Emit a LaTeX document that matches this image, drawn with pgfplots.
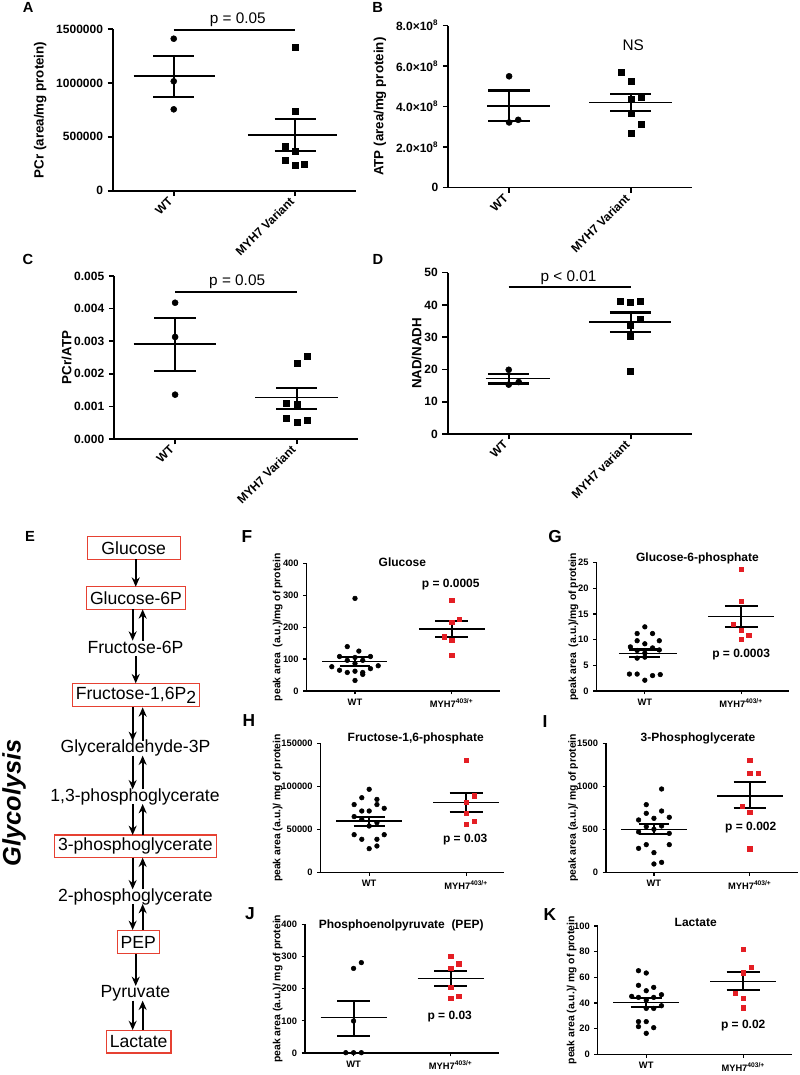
\documentclass[border=0pt]{standalone}
\usepackage{fontspec}
\setmainfont{Liberation Sans}
\usepackage{pgfplots}
\pgfplotsset{compat=1.18}
\usetikzlibrary{arrows.meta}

\definecolor{boxred}{RGB}{230,65,50}
\definecolor{ptred}{RGB}{228,30,36}

\newcommand{\fs}[1]{\fontsize{#1}{#1}\selectfont}
% mean line: xl, xr, y, width
\newcommand{\mline}[4]{\addplot[black,line width=#4,forget plot] coordinates {(#1,#3) (#2,#3)};}
% SEM bar: xc, capl, capr, lo, hi, width
\newcommand{\semb}[6]{%
 \addplot[black,line width=#6,forget plot] coordinates {(#1,#4) (#1,#5)};
 \addplot[black,line width=#6,forget plot] coordinates {(#2,#4) (#3,#4)};
 \addplot[black,line width=#6,forget plot] coordinates {(#2,#5) (#3,#5)};}

\pgfplotsset{
 gpA/.style={scale only axis, anchor=south west, axis lines=left,
  axis line style={-,line width=1.2pt}, tick align=outside, major tick length=4pt,
  tick style={line width=1.2pt,black}, xmin=-0.5, xmax=1.5, ymin=0, xtick={0,1},
  enlargelimits=false, clip=false, scaled y ticks=false, scaled x ticks=false,
  yticklabel style={font=\bfseries\fs{9}},
  xticklabel style={font=\bfseries\fs{9}, rotate=45, anchor=east},
  ylabel style={at={(axis description cs:#1,0.5)},anchor=center,font=\bfseries\fs{10}}},
 gpS/.style={scale only axis, anchor=south west, axis lines=left,
  axis line style={-,line width=0.9pt}, tick align=outside, major tick length=2.5pt,
  tick style={line width=0.9pt,black}, xmin=-0.5, xmax=1.5, ymin=0, xtick={0,1},
  xticklabels={WT,MYH7\textsuperscript{403/+}},
  enlargelimits=false, clip=false, scaled y ticks=false, scaled x ticks=false,
  tick label style={font=\bfseries\fs{7}},
  ylabel style={at={(axis description cs:#1,0.5)},anchor=center,font=\bfseries\fs{7.8}}},
 wtA/.style={only marks, mark=*, mark size=2.25pt, black},
 mtA/.style={only marks, mark=square*, mark size=2.25pt, black},
 wtS/.style={only marks, mark=*, mark size=1.75pt, black},
 mtS/.style={only marks, mark=square*, mark size=1.6pt, ptred},
}
\tikzset{
 met/.style={font=\fs{13.2}, inner sep=0pt, anchor=center},
 mbox/.style={draw=boxred, line width=0.8pt, inner xsep=2.6pt, inner ysep=0pt, minimum height=17pt, font=\fs{13.2}},
 parr/.style={draw=black, line width=1.5pt, -{Stealth[length=7pt,width=6pt]}},
 plet/.style={font=\bfseries\fs{11}, inner sep=0pt},
 plet2/.style={font=\bfseries\fs{13}, inner sep=0pt},
}

\begin{document}
\begin{tikzpicture}
\useasboundingbox (0,0) rectangle (600pt,806.25pt);

% ---------------- Panel A
\begin{axis}[gpA=-0.30, at={(84.75pt,663.2pt)}, width=182.25pt, height=121.3pt,
  ymax=1500000, ytick={0,500000,1000000,1500000}, yticklabels={0,500000,1000000,1500000},
  xticklabels={WT,MYH7 Variant}, ylabel={PCr (area/mg protein)}]
\addplot[wtA] coordinates {(0,1410000) (0,1015000) (0,755000)};
\addplot[mtA] coordinates {(1,1333000) (1,733000) (0.918,408000) (1,368000) (0.918,285000) (1,235000) (1.077,248000)};
\mline{-0.33}{0.34}{1064000}{1pt}
\semb{0}{-0.17}{0.17}{872000}{1252000}{1.75pt}
\mline{0.61}{1.34}{517000}{1pt}
\semb{1}{0.83}{1.17}{368000}{668000}{1.75pt}
\addplot[black,line width=1.75pt] coordinates {(0,1491000) (1,1491000)};
\node[font=\fs{11.5}] at (axis cs:0.527,1583000) {p = 0.05};
\end{axis}

% ---------------- Panel B
\begin{axis}[gpA=-0.281, at={(336.2pt,665.5pt)}, width=182.5pt, height=121.5pt,
  ymax=800000000, ytick={0,200000000,400000000,600000000,800000000},
  yticklabels={0,2.0×10\textsuperscript{8},4.0×10\textsuperscript{8},6.0×10\textsuperscript{8},8.0×10\textsuperscript{8}},
  xticklabels={WT,MYH7 Variant}, ylabel={ATP (area/mg protein)}]
\addplot[wtA] coordinates {(0,550000000) (0,322000000) (0.075,335000000)};
\addplot[mtA] coordinates {(0.923,571000000) (1,525000000) (1,436000000) (1.083,448000000) (1,367000000) (1.083,313000000) (1,270000000)};
\mline{-0.18}{0.34}{403000000}{1pt}
\semb{0}{-0.17}{0.17}{328000000}{479000000}{1.75pt}
\mline{0.66}{1.34}{420000000}{1pt}
\semb{1}{0.83}{1.17}{377000000}{461000000}{1.75pt}
\node[font=\fs{11.5}] at (axis cs:1.02,705000000) {NS};
\end{axis}

% ---------------- Panel C
\begin{axis}[gpA=-0.196, at={(85.7pt,477pt)}, width=182.5pt, height=122.25pt,
  ymax=0.005, ytick={0,0.001,0.002,0.003,0.004,0.005},
  yticklabels={0.000,0.001,0.002,0.003,0.004,0.005},
  xticklabels={WT,MYH7 Variant}, ylabel={PCr/ATP}]
\addplot[wtA] coordinates {(0,0.00418) (0,0.00313) (0,0.00136)};
\addplot[mtA] coordinates {(1,0.00232) (1.083,0.00253) (0.917,0.00111) (1,0.00105) (0.917,0.00064) (1,0.00051) (1.083,0.00056)};
\mline{-0.34}{0.34}{0.00291}{1pt}
\semb{0}{-0.17}{0.17}{0.00208}{0.00371}{1.75pt}
\mline{0.66}{1.34}{0.00127}{1pt}
\semb{1}{0.83}{1.17}{0.00093}{0.00157}{1.75pt}
\addplot[black,line width=1.75pt] coordinates {(0,0.0045) (1,0.0045)};
\node[font=\fs{11.5}] at (axis cs:0.51,0.004825) {p = 0.05};
\end{axis}

% ---------------- Panel D
\begin{axis}[gpA=-0.127, at={(335.8pt,480.75pt)}, width=183pt, height=121pt,
  ymax=50, ytick={0,10,20,30,40,50}, yticklabels={0,10,20,30,40,50},
  xticklabels={WT,MYH7 variant}, ylabel={NAD/NADH}]
\addplot[wtA] coordinates {(0,19.9) (0,15.3) (0.082,16.1)};
\addplot[mtA] coordinates {(0.918,41.0) (1,40.7) (1.08,41.2) (1.08,35.6) (1,33.7) (1,30.2) (1,19.4)};
\mline{-0.19}{0.34}{17.1}{1pt}
\semb{0}{-0.17}{0.17}{15.6}{18.5}{1.75pt}
\mline{0.66}{1.33}{34.7}{1pt}
\semb{1}{0.83}{1.17}{31.7}{37.7}{1.75pt}
\addplot[black,line width=1.75pt] coordinates {(0,45.66) (1,45.66)};
\node[font=\fs{11.5}] at (axis cs:0.49,48.3) {p < 0.01};
\end{axis}

% ---------------- Panel F
\begin{axis}[gpS=-0.15, at={(230pt,288pt)}, width=145pt, height=95.8pt,
  ymax=400, ytick={0,100,200,300,400}, yticklabels={0,100,200,300,400},
  ylabel={peak area\ \ (a.u.)/mg of protein}]
\addplot[wtS] coordinates {(0,290) (-0.08,139) (0.04,125) (-0.16,108) (0,105) (0.16,108) (-0.08,96) (0.08,96) (-0.24,76) (0,86) (0.24,79) (-0.16,65) (-0.08,58) (0,62) (0.08,58) (0.16,70) (0.08,52) (0,33)};
\addplot[mtS] coordinates {(1,285) (1.08,224) (1,215) (0.92,170) (1,160) (1,113)};
\mline{-0.34}{0.33}{92}{1.2pt}
\semb{0}{-0.16}{0.16}{79}{107}{1.6pt}
\mline{0.66}{1.34}{195}{1.2pt}
\semb{1}{0.83}{1.17}{170}{219}{1.6pt}
\node[font=\bfseries\fs{9}] at (axis cs:0.49,402) {Glucose};
\node[font=\bfseries\fs{9}] at (axis cs:0.99,334) {p = 0.0005};
\end{axis}

% ---------------- Panel G
\begin{axis}[gpS=-0.121, at={(447.5pt,288pt)}, width=144.5pt, height=96.2pt,
  ymax=25, ytick={0,5,10,15,20,25}, yticklabels={0,5,10,15,20,25},
  ylabel={peak area\ \ (a.u.)/mg of protein}]
\addplot[wtS] coordinates {(0,12.5) (-0.08,11.2) (0.08,11.2) (-0.08,9.8) (0.15,9.8) (0,9.2) (-0.15,8.6) (0.08,8.4) (0.15,8.0) (-0.08,7.9) (0,7.4) (0,6.6) (-0.16,3.3) (-0.08,3.3) (0.08,3.0) (0.16,3.2) (0,2.1) (-0.08,6.4)};
\addplot[mtS] coordinates {(1,23.7) (1,17.5) (0.92,13.05) (1,11.9) (1.08,10.9) (1,10.1)};
\mline{-0.27}{0.33}{7.3}{1.2pt}
\semb{0}{-0.16}{0.16}{6.6}{8.1}{1.6pt}
\mline{0.66}{1.34}{14.5}{1.2pt}
\semb{1}{0.83}{1.17}{12.4}{16.6}{1.6pt}
\node[font=\bfseries\fs{9}] at (axis cs:0.546,25.8) {Glucose-6-phosphate};
\node[font=\bfseries\fs{9}] at (axis cs:1.0,7.15) {p = 0.0003};
\end{axis}

% ---------------- Panel H
\begin{axis}[gpS=-0.235, at={(240.5pt,152pt)}, width=137.5pt, height=96.5pt, xmax=1.39,
  ymax=150000, ytick={0,50000,100000,150000}, yticklabels={0,50000,100000,150000},
  ylabel={peak area (a.u.)/ mg of protein}]
\addplot[wtS] coordinates {(0,96800) (-0.076,87000) (0.08,85000) (-0.155,79000) (0.08,79000) (-0.076,71500) (0,71500) (0.155,74600) (-0.155,65000) (-0.076,61800) (0.08,57900) (0,54000) (-0.155,43900) (0.155,43900) (-0.076,38500) (0.08,38500) (0.08,30700) (0,27600)};
\addplot[mtS] coordinates {(1,131000) (1.08,89400) (1,81600) (1,68800) (1,56300) (1.08,59800)};
\mline{-0.34}{0.34}{59800}{1.2pt}
\semb{0}{-0.16}{0.16}{54400}{64900}{1.6pt}
\mline{0.66}{1.34}{81600}{1.2pt}
\semb{1}{0.83}{1.17}{70700}{92900}{1.6pt}
\node[font=\bfseries\fs{9}] at (axis cs:0.48,155800) {Fructose-1,6-phosphate};
\node[font=\bfseries\fs{9}] at (axis cs:0.99,37700) {p = 0.03};
\end{axis}

% ---------------- Panel I
\begin{axis}[gpS=-0.171, at={(454.5pt,152pt)}, width=143.8pt, height=96.75pt,
  ymax=1500, ytick={0,500,1000,1500}, yticklabels={0,500,1000,1500},
  ylabel={peak area (a.u.)/ mg of protein}]
\addplot[wtS] coordinates {(0.08,969) (-0.08,787) (0.08,713) (-0.08,686) (-0.16,609) (0,628) (0.16,640) (-0.08,531) (0.08,539) (0,500) (-0.16,470) (0.16,453) (0.16,322) (-0.08,322) (-0.16,279) (0,229) (0,97) (0.08,116)};
\addplot[mtS] coordinates {(1,1306) (1,1151) (1.085,1151) (0.92,771) (1,702) (1,275)};
\mline{-0.34}{0.34}{500}{1.2pt}
\semb{0}{-0.16}{0.16}{442}{558}{1.6pt}
\mline{0.66}{1.35}{891}{1.2pt}
\semb{1}{0.83}{1.17}{744}{1054}{1.6pt}
\node[font=\bfseries\fs{9}] at (axis cs:0.46,1553) {3-Phosphoglycerate};
\node[font=\bfseries\fs{9}] at (axis cs:1.01,523) {p = 0.002};
\end{axis}

% ---------------- Panel J
\begin{axis}[gpS=-0.14, at={(228.75pt,16.5pt)}, width=145.7pt, height=96.5pt,
  ymax=400, ytick={0,100,200,300,400}, yticklabels={0,100,200,300,400},
  ylabel={peak area (a.u.)/ mg of protein}]
\addplot[wtS] coordinates {(0,263) (0.08,281) (0,99.5) (-0.08,1) (0,1) (0.08,1)};
\addplot[mtS] coordinates {(1,301.5) (1.083,277.6) (1,263) (1,204) (1,171) (1.083,176)};
\mline{-0.34}{0.34}{110}{1.2pt}
\semb{0}{-0.17}{0.17}{54}{162}{1.6pt}
\mline{0.66}{1.34}{232}{1.2pt}
\semb{1}{0.83}{1.17}{209}{256}{1.6pt}
\node[font=\bfseries\fs{9}] at (axis cs:0.49,397.8) {Phosphoenolpyruvate\ \ (PEP)};
\node[font=\bfseries\fs{9}] at (axis cs:0.99,112.8) {p = 0.03};
\end{axis}

% ---------------- Panel K
\begin{axis}[gpS=-0.134, at={(448.3pt,15.5pt)}, width=145.5pt, height=96.2pt,
  ymax=100, ytick={0,20,40,60,80,100}, yticklabels={0,20,40,60,80,100},
  ylabel={peak area (a.u.)/ mg of protein}]
\addplot[wtS] coordinates {(-0.08,65.2) (0,63.4) (-0.08,53.8) (0.077,52.2) (0,49.6) (0.157,46.5) (-0.15,45.2) (-0.08,44.4) (0.077,44.4) (0,42.3) (0.157,37.9) (0,35.8) (0.077,35.8) (-0.08,25.5) (0,25.5) (-0.08,21.6) (0.077,20.8) (0,16.4)};
\addplot[mtS] coordinates {(1,82.1) (1.08,67.8) (1,63.6) (0.92,47.5) (1,43.9) (1,36.4)};
\mline{-0.34}{0.34}{40.3}{1.2pt}
\semb{0}{-0.16}{0.16}{36.6}{43.6}{1.6pt}
\mline{0.66}{1.34}{56.9}{1.2pt}
\semb{1}{0.83}{1.17}{50.1}{64.2}{1.6pt}
\node[font=\bfseries\fs{9}] at (axis cs:0.51,102.6) {Lactate};
\node[font=\bfseries\fs{9}] at (axis cs:1.0,22.8) {p = 0.02};
\end{axis}

% ---------------- Panel E: pathway
\node[mbox, minimum width=69.5pt] at (100.3pt,395.25pt) {Glucose};
\node[mbox] at (102pt,357.75pt) {Glucose-6P};
\node[met] at (101.6pt,320.5pt) {Fructose-6P};
\node[mbox] at (102pt,284.8pt) {Fructose-1,6P\raisebox{-0.35ex}{2}};
\node[met] at (101.6pt,245pt) {Glyceraldehyde-3P};
\node[met] at (101.25pt,208.75pt) {1,3-phosphoglycerate};
\node[mbox] at (101.5pt,171.5pt) {3-phosphoglycerate};
\node[met] at (101.5pt,133.75pt) {2-phosphoglycerate};
\node[mbox] at (103.7pt,99.75pt) {PEP};
\node[met] at (101.6pt,61.3pt) {Pyruvate};
\node[mbox] at (104pt,25pt) {Lactate};

\draw[parr] (101.8pt,386.75pt) -- (101.8pt,366.2pt);
\draw[parr] (99.5pt,349.25pt) -- (99.5pt,325.75pt);
\draw[parr] (107pt,325.75pt) -- (107pt,349.25pt);
\draw[parr] (101.8pt,314.25pt) -- (101.8pt,293.75pt);
\draw[parr] (99.5pt,275.75pt) -- (99.5pt,250.5pt);
\draw[parr] (107pt,250.5pt) -- (107pt,275.75pt);
\draw[parr] (99.5pt,239.5pt) -- (99.5pt,214.25pt);
\draw[parr] (107pt,214.25pt) -- (107pt,239.5pt);
\draw[parr] (99.5pt,203.25pt) -- (99.5pt,180pt);
\draw[parr] (107pt,180pt) -- (107pt,203.25pt);
\draw[parr] (99.5pt,163pt) -- (99.5pt,139.25pt);
\draw[parr] (107pt,139.25pt) -- (107pt,163pt);
\draw[parr] (99.5pt,128.25pt) -- (99.5pt,108.75pt);
\draw[parr] (107pt,108.75pt) -- (107pt,128.25pt);
\draw[parr] (101.8pt,90.75pt) -- (101.8pt,66.75pt);
\draw[parr] (99.5pt,55.75pt) -- (99.5pt,33.7pt);
\draw[parr] (107pt,33.7pt) -- (107pt,55.75pt);

\node[rotate=90, font=\bfseries\itshape\fs{19}] at (10.5pt,204pt) {Glycolysis};

% ---------------- panel letters
\node[plet] at (21.2pt,800.8pt) {A};
\node[plet] at (283.3pt,800.8pt) {B};
\node[plet] at (21pt,612pt) {C};
\node[plet] at (283.5pt,612pt) {D};
\node[plet] at (22.5pt,404.25pt) {E};
\node[plet2] at (185.25pt,403.5pt) {F};
\node[plet2] at (416.25pt,403.75pt) {G};
\node[plet2] at (186.75pt,265.5pt) {H};
\node[plet2] at (408.75pt,265pt) {I};
\node[plet2] at (187.5pt,120.75pt) {J};
\node[plet2] at (412.5pt,120pt) {K};
\end{tikzpicture}
\end{document}
